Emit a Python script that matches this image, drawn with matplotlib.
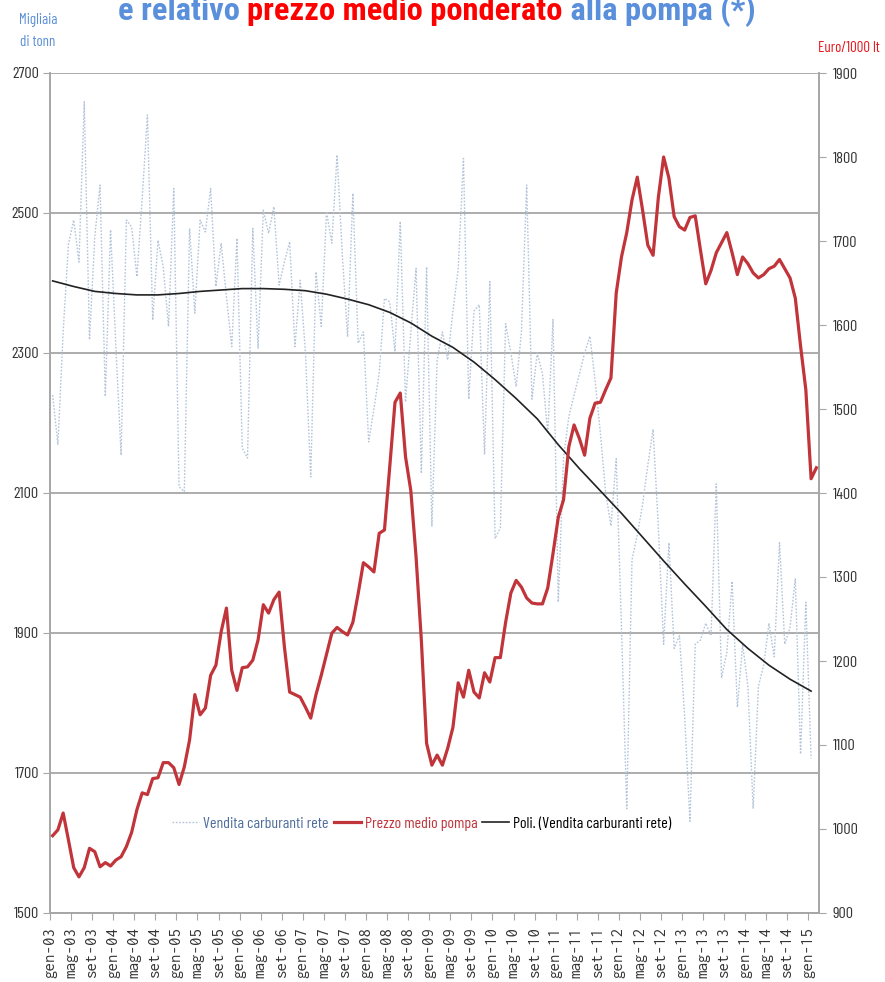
import numpy as np
import matplotlib
matplotlib.use('Agg')
import matplotlib.pyplot as plt
from matplotlib import font_manager
from matplotlib.font_manager import FontProperties

# ---------------- data ----------------
vendite = [2240, 2169, 2330, 2455, 2490, 2430, 2659, 2319, 2466, 2540,
           2238, 2476, 2310, 2154, 2490, 2480, 2409, 2520, 2640, 2347,
           2461, 2423, 2338, 2535, 2109, 2102, 2478, 2357, 2490, 2473,
           2535, 2395, 2457, 2380, 2309, 2464, 2164, 2150, 2478, 2307,
           2504, 2471, 2509, 2397, 2430, 2459, 2309, 2404, 2300, 2123,
           2416, 2338, 2502, 2457, 2583, 2440, 2323, 2528, 2314, 2330,
           2173, 2220, 2271, 2378, 2373, 2302, 2488, 2230, 2330, 2421,
           2128, 2423, 2052, 2290, 2330, 2290, 2360, 2420, 2578, 2234,
           2360, 2369, 2155, 2402, 2035, 2050, 2342, 2300, 2252, 2330,
           2540, 2234, 2300, 2270, 2185, 2348, 1944, 2150, 2209, 2240,
           2270, 2300, 2324, 2260, 2185, 2100, 2053, 2149, 1908, 1649,
           2005, 2040, 2083, 2140, 2191, 2050, 1884, 2029, 1878, 1896,
           1780, 1631, 1884, 1890, 1914, 1896, 2113, 1836, 1872, 1974,
           1794, 1884, 1824, 1649, 1824, 1854, 1914, 1866, 2029, 1884,
           1908, 1978, 1727, 1944, 1721]

prezzo = [992, 999, 1019, 987, 954, 943, 954, 977, 973, 955,
          960, 956, 963, 967, 979, 996, 1023, 1043, 1041, 1060,
          1061, 1079, 1079, 1073, 1053, 1074, 1106, 1160, 1136, 1144,
          1183, 1195, 1235, 1263, 1189, 1165, 1192, 1193, 1201, 1225,
          1267, 1257, 1273, 1282, 1217, 1163, 1160, 1157, 1145, 1132,
          1160, 1183, 1208, 1233, 1240, 1235, 1231, 1246, 1280, 1317,
          1312, 1306, 1352, 1356, 1431, 1508, 1519, 1443, 1403, 1324,
          1225, 1102, 1076, 1088, 1076, 1096, 1121, 1174, 1157, 1189,
          1163, 1156, 1186, 1175, 1204, 1204, 1246, 1281, 1296, 1288,
          1275, 1269, 1268, 1268, 1287, 1328, 1371, 1392, 1455, 1481,
          1465, 1445, 1489, 1507, 1508, 1523, 1537, 1638, 1681, 1710,
          1749, 1776, 1737, 1695, 1683, 1752, 1800, 1775, 1729, 1717,
          1713, 1728, 1730, 1689, 1649, 1665, 1686, 1698, 1710, 1686,
          1660, 1681, 1673, 1662, 1656, 1660, 1667, 1670, 1678, 1667,
          1656, 1632, 1575, 1523, 1417, 1430]

trend_month = [0, 4, 8, 12, 16, 20, 24, 28, 32, 36, 40, 44, 48, 52, 56, 60,
               64, 68, 72, 76, 80, 84, 88, 92, 96, 100, 104, 108, 112, 116,
               120, 124, 128, 132, 136, 140, 144]
trend_val = [2403, 2395, 2388, 2385, 2383, 2383, 2385, 2388, 2390, 2392,
             2392, 2391, 2389, 2384, 2377, 2369, 2358, 2343, 2324, 2308,
             2287, 2262, 2235, 2206, 2169, 2135, 2103, 2071, 2037, 2003,
             1970, 1938, 1905, 1878, 1854, 1834, 1817]

tick_labels = ['gen-03', 'mag-03', 'set-03', 'gen-04', 'mag-04', 'set-04',
               'gen-05', 'mag-05', 'set-05', 'gen-06', 'mag-06', 'set-06',
               'gen-07', 'mag-07', 'set-07', 'gen-08', 'mag-08', 'set-08',
               'gen-09', 'mag-09', 'set-09', 'gen-10', 'mag-10', 'set-10',
               'gen-11', 'mag-11', 'set-11', 'gen-12', 'mag-12', 'set-12',
               'gen-13', 'mag-13', 'set-13', 'gen-14', 'mag-14', 'set-14',
               'gen-15']
left_ticks = [1500, 1700, 1900, 2100, 2300, 2500, 2700]
right_ticks = [900, 1000, 1100, 1200, 1300, 1400, 1500, 1600, 1700, 1800, 1900]
n_categories = 146

# ---------------- fonts ----------------
names = {f.name for f in font_manager.fontManager.ttflist}


def pick(cands):
    for c in cands:
        if c in names:
            return c
    return 'DejaVu Sans'


narrow = pick(['Barlow Condensed', 'Roboto Condensed', 'PT Sans Narrow',
               'Archivo Narrow', 'Sofia Sans Condensed', 'Encode Sans Condensed',
               'Asap Condensed', 'IBM Plex Sans Condensed', 'Carlito',
               'Liberation Sans'])
mono = pick(['Inconsolata', 'Liberation Mono', 'DejaVu Sans Mono'])
title_font = pick(['Liberation Sans Narrow', 'Arimo Narrow', 'Roboto Condensed',
                   'Archivo Narrow', 'PT Sans Narrow', 'Barlow Semi Condensed',
                   'Barlow Condensed', 'Liberation Sans'])
NARROW = [narrow, 'DejaVu Sans']

W, H = 885, 982
fig = plt.figure(figsize=(W / 100, H / 100), dpi=100)
rend = fig.canvas.get_renderer()


def fit_size(text, family, target_px, weight='normal', base=10.0):
    fp = FontProperties(family=family, size=base, weight=weight)
    w, h, d = rend.get_text_width_height_descent(text, fp, ismath=False)
    return base * target_px / w


sz_tick = min(fit_size('2700', narrow, 27), 13)
sz_leg = fit_size('Vendita carburanti rete', narrow, 126)
sz_unit = fit_size('Euro/1000 lt', narrow, 62)
sz_x = fit_size('gen-03', mono, 51)
sz_title = fit_size('e relativo prezzo medio ponderato alla pompa (*)', title_font,
                    637, weight='bold')

L, R, T, B = 50, 819, 73, 913
ax1 = fig.add_axes([L / W, 1 - B / H, (R - L) / W, (B - T) / H])
ax2 = ax1.twinx()

grid_c = '#a6a6a6'
x_v = np.arange(len(vendite)) + 0.5
x_p = np.arange(len(prezzo)) + 0.5
x_t = np.array(trend_month) + 0.5

ax1.set_ylim(1500, 2700)
ax2.set_ylim(900, 1900)
ax1.set_xlim(0, n_categories)
ax1.set_yticks(left_ticks)
ax2.set_yticks(right_ticks)
ax1.yaxis.grid(True, color=grid_c, lw=1.3)
ax1.set_axisbelow(True)

l1, = ax1.plot(x_v, vendite, color='#b3c4da', lw=1.0, ls=(0, (1.2, 1.2)),
               label='Vendita carburanti rete', zorder=2)
l3, = ax1.plot(x_t, trend_val, color='#222222', lw=1.2,
               label='Poli. (Vendita carburanti rete)', zorder=3)
l2, = ax2.plot(x_p, prezzo, color='#c0343a', lw=2.3,
               label='Prezzo medio pompa', zorder=4)

for ax in (ax1, ax2):
    ax.spines['top'].set_visible(False)
    for s in ('left', 'right', 'bottom'):
        ax.spines[s].set_color(grid_c)
        ax.spines[s].set_linewidth(1.2)

ax1.set_xticks(np.arange(0, 145, 4))
ax1.set_xticklabels(tick_labels, rotation=90, family=[mono, 'DejaVu Sans Mono'],
                    fontsize=sz_x, color='#333333')
ax1.tick_params(axis='x', length=5, color=grid_c, pad=5)
ax1.tick_params(axis='y', length=5, color=grid_c, labelsize=sz_tick,
                labelcolor='#333333', pad=3)
ax2.tick_params(axis='y', length=5, color=grid_c, labelsize=sz_tick,
                labelcolor='#333333', pad=5)
for lab in ax1.get_yticklabels() + ax2.get_yticklabels():
    lab.set_family(NARROW)

# units
fig.text(38 / W, 1 - 20 / H, 'Migliaia', ha='center', va='center',
         family=NARROW, fontsize=sz_unit, color='#5b8fd6')
fig.text(38 / W, 1 - 42 / H, 'di tonn', ha='center', va='center',
         family=NARROW, fontsize=sz_unit, color='#5b8fd6')
fig.text(849 / W, 1 - 48 / H, 'Euro/1000 lt', ha='center', va='center',
         family=NARROW, fontsize=sz_unit, color='#e8141b')

# legend
px = sz_leg * 100 / 72
leg = ax2.legend(handles=[l1, l2, l3], loc='center', ncol=3, frameon=False,
                 bbox_to_anchor=(422 / W, 1 - 824 / H),
                 bbox_transform=fig.transFigure,
                 prop={'family': NARROW, 'size': sz_leg},
                 handlelength=27 / px, handletextpad=4 / px,
                 columnspacing=5 / px, borderpad=0, borderaxespad=0)
for t, c in zip(leg.get_texts(), ['#4e6e9e', '#c0343a', '#000000']):
    t.set_color(c)

# title (partially cut at top of the image)
pieces = ['e relativo ', 'prezzo medio ponderato', ' alla pompa (*)']
colors = ['#5a8fdc', '#ff0000', '#5a8fdc']
x = 118
for s, c in zip(pieces, colors):
    t = fig.text(x / W, 1 - 20 / H, s, color=c, fontsize=sz_title,
                 fontweight='bold', family=[title_font, 'DejaVu Sans'],
                 va='baseline', ha='left')
    bb = t.get_window_extent(renderer=rend)
    x = bb.x1

fig.savefig('out.png', dpi=100)
